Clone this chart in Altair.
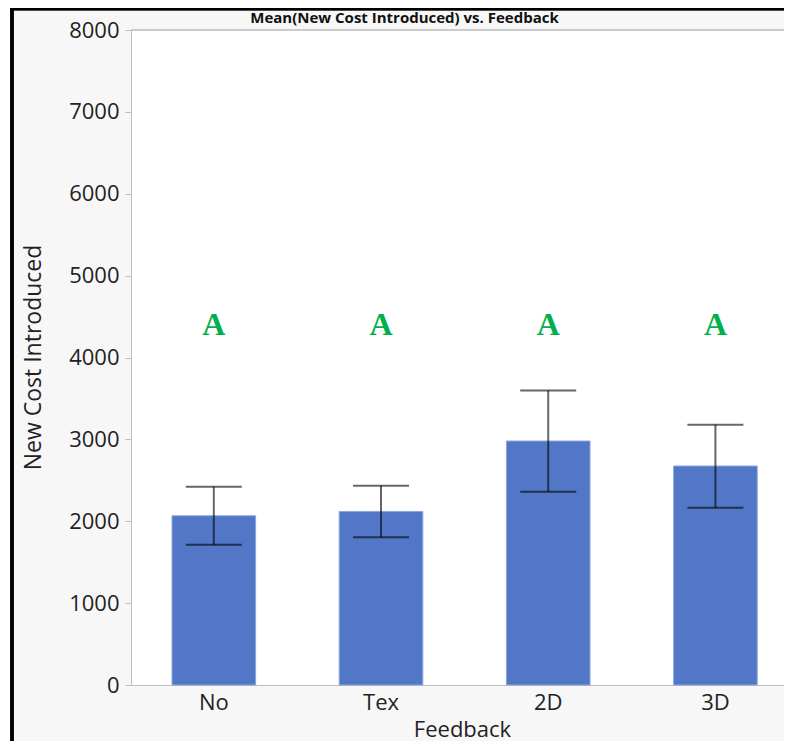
import altair as alt
import pandas as pd

# ---- data ----
feedback = ["No", "Tex", "2D", "3D"]
mean_cost = [2067, 2120, 2980, 2675]
err_low = [1713, 1805, 2361, 2165]
err_high = [2422, 2434, 3596, 3180]
group_letter = ["A", "A", "A", "A"]
letter_level = [4270, 4270, 4270, 4270]
y_ticks = [0, 1000, 2000, 3000, 4000, 5000, 6000, 7000, 8000]

df = pd.DataFrame({
    "Feedback": feedback,
    "Mean": mean_cost,
    "Low": err_low,
    "High": err_high,
    "Letter": group_letter,
    "Level": letter_level,
})

FONT = "Open Sans"
AXIS_GRAY = "#bdbdbd"
TEXT = "#222222"

PLOT_W = 653
PLOT_H = 655

xscale = alt.Scale(paddingInner=0.5, paddingOuter=0.2027, align=0.605)
yscale = alt.Scale(domain=[0, 8000], nice=False)

xenc = alt.X(
    "Feedback:N",
    sort=feedback,
    scale=xscale,
    axis=alt.Axis(
        title="Feedback",
        labelAngle=0,
        ticks=False,
        tickSize=0,
        labelPadding=7,
        labelFont=FONT,
        labelFontSize=22,
        labelColor=TEXT,
        domainColor=AXIS_GRAY,
        titleFont=FONT,
        titleFontSize=22,
        titleFontWeight="normal",
        titleColor=TEXT,
        titleX=331,
        titleY=51,
        titleBaseline="alphabetic",
    ),
)

bars = alt.Chart(df).mark_bar(
    color="#5377c7", stroke="#8ea5dd", strokeWidth=1
).encode(
    x=xenc,
    y=alt.Y(
        "Mean:Q",
        scale=yscale,
        axis=alt.Axis(
            values=y_ticks,
            format="d",
            title="New Cost Introduced",
            grid=False,
            tickSize=6,
            tickColor=AXIS_GRAY,
            domainColor=AXIS_GRAY,
            labelPadding=6,
            labelFont=FONT,
            labelFontSize=22,
            labelColor=TEXT,
            titleFont=FONT,
            titleFontSize=23,
            titleFontWeight="normal",
            titleColor=TEXT,
            titleX=-98,
            titleY=327,
            titleBaseline="middle",
        ),
    ),
)

err_line = alt.Chart(df).mark_rule(color="black", opacity=0.6, strokeWidth=2).encode(
    x=alt.X("Feedback:N", sort=feedback),
    y=alt.Y("Low:Q"),
    y2="High:Q",
)

cap_low = alt.Chart(df).mark_tick(
    color="black", opacity=0.6, thickness=2, size=56, orient="horizontal"
).encode(
    x=alt.X("Feedback:N", sort=feedback),
    y=alt.Y("Low:Q"),
)

cap_high = alt.Chart(df).mark_tick(
    color="black", opacity=0.6, thickness=2, size=56, orient="horizontal"
).encode(
    x=alt.X("Feedback:N", sort=feedback),
    y=alt.Y("High:Q"),
)

letters = alt.Chart(df).mark_text(
    font="Liberation Serif", fontWeight="bold", fontSize=32,
    color="#00B050", baseline="alphabetic", align="center"
).encode(
    x=alt.X("Feedback:N", sort=feedback),
    y=alt.Y("Level:Q"),
    text="Letter:N",
)

# plot-area top edge and decorative frame around the report
plot_top = alt.Chart(df).mark_rule(color="#c8c8c8", strokeWidth=1).encode(
    x=alt.value(0), x2=alt.value(PLOT_W), y=alt.value(0)
)
frame_left = alt.Chart(df).mark_rule(color="black", strokeWidth=3).encode(
    x=alt.value(-119), y=alt.value(-22), y2=alt.value(730)
)
frame_top = alt.Chart(df).mark_rule(color="black", strokeWidth=2.5).encode(
    x=alt.value(-121), x2=alt.value(680), y=alt.value(-21)
)
white_strip = alt.Chart(df).mark_rule(color="white", strokeWidth=3).encode(
    x=alt.value(-121.5), y=alt.value(-22), y2=alt.value(730)
)

chart = alt.layer(
    bars, err_line, cap_low, cap_high, letters, plot_top,
    white_strip, frame_left, frame_top
).properties(
    width=PLOT_W,
    height=PLOT_H,
    autosize=alt.AutoSizeParams(type="none"),
    padding={"left": 123, "top": 22, "right": 0, "bottom": 56},
    title=alt.TitleParams(
        "Mean(New Cost Introduced) vs. Feedback",
        font=FONT,
        fontSize=15,
        fontWeight="bold",
        color="#111111",
        anchor="middle",
        baseline="alphabetic",
        offset=0,
        dx=-53,
        dy=31,
    ),
).configure(
    background="#f7f7f7",
).configure_view(
    fill="white",
    stroke="transparent",
)

chart.save("out.html", embed_options={"renderer": "svg", "actions": False})
